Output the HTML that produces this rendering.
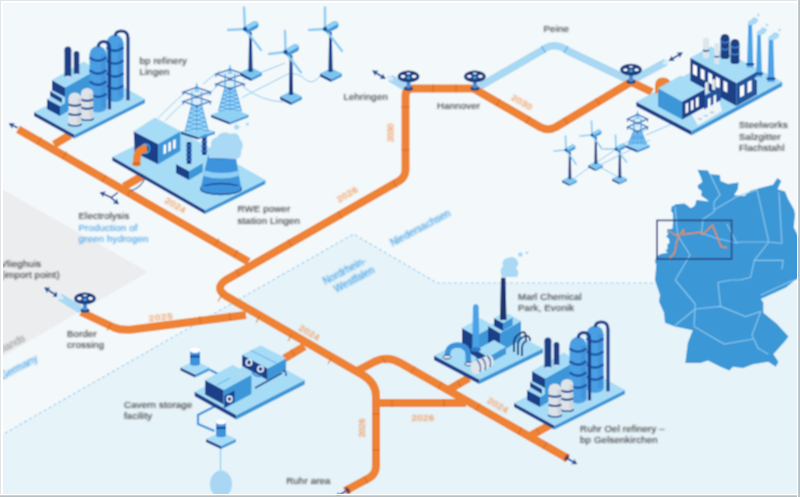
<!DOCTYPE html>
<html><head><meta charset="utf-8"><style>
html,body{margin:0;padding:0;background:#f3f8fa;}
body{width:800px;height:497px;overflow:hidden;position:relative;font-family:"Liberation Sans",sans-serif;}
svg{position:absolute;left:0;top:0;}
</style></head><body>
<svg width="800" height="497" viewBox="0 0 800 497">
<defs><filter id="bl" x="0" y="0" width="800" height="497" filterUnits="userSpaceOnUse"><feConvolveMatrix order="3" kernelMatrix="1 2 1 2 4 2 1 2 1" divisor="16" edgeMode="duplicate"/></filter><filter id="tb" x="-10%" y="-30%" width="120%" height="160%"><feConvolveMatrix order="3" kernelMatrix="1 2 1 2 4 2 1 2 1" divisor="16" edgeMode="none"/></filter></defs>
<g filter="url(#bl)">
<rect x="0" y="0" width="800" height="497" fill="#f3f8fa"/>
<polygon points="0,436 353.5,234 437,283 800,283 800,497 0,497" fill="#e6f3f9"/>
<polygon points="0,188 148,272 0,358" fill="#ebedef"/>
<polyline points="0,436 353.5,234 437,283 660,283" fill="none" stroke="#9ed2f0" stroke-width="1.2" stroke-dasharray="3,2.6"/>
<polygon points="697.6,169.8 707.8,170.5 710.0,174.2 719.8,175.0 720.5,181.0 728.0,184.0 738.5,182.5 737.8,189.2 734.0,195.2 744.5,196.0 750.5,190.8 761.0,187.8 773.0,184.8 777.5,178.0 781.2,181.0 777.5,189.2 785.0,191.5 788.0,199.0 794.0,209.5 795.0,214.5 793.7,227.6 797.6,235.0 800.0,240.0 800.0,278.0 795.0,280.0 786.0,287.5 760.8,298.9 763.3,302.6 763.3,312.7 777.0,324.0 788.4,336.6 784.7,341.6 773.3,354.2 778.4,361.8 775.8,366.8 768.3,361.8 753.0,364.3 743.0,368.0 733.0,366.8 729.3,370.6 720.5,366.8 708.0,360.5 700.4,363.0 685.3,363.0 687.8,342.9 692.8,330.3 675.0,326.5 665.0,322.8 664.0,312.7 659.0,301.4 660.0,295.0 655.0,280.0 656.3,265.0 654.9,261.2 656.3,257.0 660.5,254.0 667.5,252.7 665.4,250.0 667.5,249.2 667.5,244.3 669.6,242.9 669.0,238.7 666.0,236.5 668.0,234.4 666.8,229.5 672.5,228.8 673.0,221.8 672.9,213.3 671.0,210.9 671.6,206.7 675.9,204.3 684.3,203.6 686.7,204.9 690.4,207.9 692.8,207.3 695.2,204.9 696.4,200.0 709.0,201.5 706.0,199.0 701.2,195.8 701.8,191.0 698.2,188.6 697.6,185.5 702.4,181.9 701.2,178.3" fill="#3b97d6"/>
<polyline points="710.0,174.0 720.0,195.0 714.0,202.0 714.0,212.0 702.9,219.0 701.6,233.0" fill="none" stroke="#8fcaf0" stroke-width="1.2" opacity="0.9"/>
<polyline points="714.0,210.0 736.0,197.0" fill="none" stroke="#8fcaf0" stroke-width="1.2" opacity="0.9"/>
<polyline points="736.0,197.0 757.0,189.6" fill="none" stroke="#8fcaf0" stroke-width="1.2" opacity="0.9"/>
<polyline points="757.0,189.6 768.8,242.0 781.9,243.3 779.0,192.0" fill="none" stroke="#8fcaf0" stroke-width="1.2" opacity="0.9"/>
<polyline points="768.8,242.0 754.4,260.3 783.2,260.3 781.9,269.5" fill="none" stroke="#8fcaf0" stroke-width="1.2" opacity="0.9"/>
<polyline points="754.4,260.3 750.5,277.3 740.0,280.0 730.6,280.0" fill="none" stroke="#8fcaf0" stroke-width="1.2" opacity="0.9"/>
<polyline points="675.0,206.5 677.7,235.5" fill="none" stroke="#8fcaf0" stroke-width="1.2" opacity="0.9"/>
<polyline points="701.6,233.0 715.5,238.0 736.9,243.0 740.0,242.0 768.8,242.0" fill="none" stroke="#8fcaf0" stroke-width="1.2" opacity="0.9"/>
<polyline points="726.8,224.0 736.9,243.0" fill="none" stroke="#8fcaf0" stroke-width="1.2" opacity="0.9"/>
<polyline points="675.2,280.0 695.3,304.0 694.0,326.5" fill="none" stroke="#8fcaf0" stroke-width="1.2" opacity="0.9"/>
<polyline points="695.3,309.0 720.5,306.4 745.7,316.5 760.8,311.4" fill="none" stroke="#8fcaf0" stroke-width="1.2" opacity="0.9"/>
<polyline points="720.5,306.4 718.0,282.5 730.6,280.0" fill="none" stroke="#8fcaf0" stroke-width="1.2" opacity="0.9"/>
<polyline points="695.3,309.0 675.2,325.3" fill="none" stroke="#8fcaf0" stroke-width="1.2" opacity="0.9"/>
<polyline points="694.0,326.5 724.3,344.0 753.2,339.0" fill="none" stroke="#8fcaf0" stroke-width="1.2" opacity="0.9"/>
<polyline points="760.8,311.4 752.0,335.3 758.0,348.0 768.3,354.2" fill="none" stroke="#8fcaf0" stroke-width="1.2" opacity="0.9"/>
<polyline points="677.7,235.5 690.0,255.0 675.2,280.0" fill="none" stroke="#8fcaf0" stroke-width="1.2" opacity="0.9"/>
<polyline points="760.8,295.0 793.5,280.0" fill="none" stroke="#8fcaf0" stroke-width="1.2" opacity="0.9"/>
<rect x="657" y="220.4" width="74.6" height="38.6" fill="none" stroke="#2d3f78" stroke-width="1.5"/>
<polyline points="668.2,231 678.8,236.5 683.7,229.5 683,234.4 700,232.3 702.7,234.4 712.6,225.3 721,246.4 726.7,247.8" fill="none" stroke="#e88a45" stroke-width="1.4"/>
<polyline points="678.8,236.5 676.7,241.5 674.6,252.7 669.6,258.4" fill="none" stroke="#e88a45" stroke-width="1.4"/>
<path d="M 390,78 L 405,87" fill="none" stroke="#a8d8f3" stroke-width="7.5" stroke-linejoin="round" stroke-linecap="butt"/>
<path d="M 477,88 L 541,51 Q 554.5,40.5 568,51 L 631,81 L 666,62" fill="none" stroke="#a8d8f3" stroke-width="7.5" stroke-linejoin="round" stroke-linecap="butt"/>
<path d="M 0,-4 L 0,4" stroke="#5aaee8" stroke-width="1.2" transform="translate(543.5,49.5) rotate(-30)"/>
<path d="M 0,-4 L 0,4" stroke="#5aaee8" stroke-width="1.2" transform="translate(566,49.5) rotate(30)"/>
<path d="M 60,297 L 81,310" fill="none" stroke="#a8d8f3" stroke-width="7.5" stroke-linejoin="round" stroke-linecap="butt"/>
<path d="M 18,129.3 L 248.6,261.8" fill="none" stroke="#ee8336" stroke-width="8" stroke-linejoin="round" stroke-linecap="butt"/>
<path d="M 54,144.7 L 70,135" fill="none" stroke="#ee8336" stroke-width="8" stroke-linejoin="round" stroke-linecap="butt"/>
<path d="M 124,186.5 L 146,174" fill="none" stroke="#ee8336" stroke-width="8" stroke-linejoin="round" stroke-linecap="butt"/>
<path d="M 476,88.6 L 413,88.6 Q 405.5,88.6 405.5,96 L 405.5,170 Q 405.5,177 399,181 L 226,280 Q 214,288 226,296 L 362.8,375 Q 376,383 376,396 L 376,466 Q 376,474 369,478 L 345,491" fill="none" stroke="#ee8336" stroke-width="8" stroke-linejoin="round" stroke-linecap="butt"/>
<path d="M 81,312 L 114,327.5 Q 121,330.5 132,329.5 L 246,315" fill="none" stroke="#ee8336" stroke-width="8" stroke-linejoin="round" stroke-linecap="butt"/>
<path d="M 356,371.5 L 375,361.5 Q 388,355.5 400.5,363 L 567,458" fill="none" stroke="#ee8336" stroke-width="8" stroke-linejoin="round" stroke-linecap="butt"/>
<path d="M 376,403 L 466,403" fill="none" stroke="#ee8336" stroke-width="8" stroke-linejoin="round" stroke-linecap="butt"/>
<path d="M 450,389 L 469,378" fill="none" stroke="#ee8336" stroke-width="8" stroke-linejoin="round" stroke-linecap="butt"/>
<path d="M 530,436 L 550,425" fill="none" stroke="#ee8336" stroke-width="8" stroke-linejoin="round" stroke-linecap="butt"/>
<path d="M 284.3,358.5 L 304.5,346.4" fill="none" stroke="#ee8336" stroke-width="8" stroke-linejoin="round" stroke-linecap="butt"/>
<path d="M 474,88.8 L 540,127 Q 548,131.5 556,127 L 631,82 L 652,92" fill="none" stroke="#ee8336" stroke-width="8" stroke-linejoin="round" stroke-linecap="butt"/>
<path d="M 0,-4 L 0,4" stroke="#d46a22" stroke-width="1.2" transform="translate(39.4,141) rotate(30)" opacity="0.75"/>
<path d="M 0,-4 L 0,4" stroke="#d46a22" stroke-width="1.2" transform="translate(64.7,155) rotate(30)" opacity="0.75"/>
<path d="M 0,-4 L 0,4" stroke="#d46a22" stroke-width="1.2" transform="translate(104,178.4) rotate(30)" opacity="0.75"/>
<path d="M 0,-4 L 0,4" stroke="#d46a22" stroke-width="1.2" transform="translate(129.4,192.5) rotate(30)" opacity="0.75"/>
<path d="M 0,-4 L 0,4" stroke="#d46a22" stroke-width="1.2" transform="translate(217,242) rotate(30)" opacity="0.75"/>
<path d="M 0,-4 L 0,4" stroke="#d46a22" stroke-width="1.2" transform="translate(236,253.5) rotate(30)" opacity="0.75"/>
<path d="M 0,-4 L 0,4" stroke="#d46a22" stroke-width="1.2" transform="translate(405.5,107) rotate(90)" opacity="0.75"/>
<path d="M 0,-4 L 0,4" stroke="#d46a22" stroke-width="1.2" transform="translate(405.5,150) rotate(90)" opacity="0.75"/>
<path d="M 0,-4 L 0,4" stroke="#d46a22" stroke-width="1.2" transform="translate(395,184) rotate(-30)" opacity="0.75"/>
<path d="M 0,-4 L 0,4" stroke="#d46a22" stroke-width="1.2" transform="translate(340,215) rotate(-30)" opacity="0.75"/>
<path d="M 0,-4 L 0,4" stroke="#d46a22" stroke-width="1.2" transform="translate(290,243) rotate(-30)" opacity="0.75"/>
<path d="M 0,-4 L 0,4" stroke="#d46a22" stroke-width="1.2" transform="translate(238,273) rotate(-30)" opacity="0.75"/>
<path d="M 0,-4 L 0,4" stroke="#d46a22" stroke-width="1.2" transform="translate(220,298) rotate(30)" opacity="0.75"/>
<path d="M 0,-4 L 0,4" stroke="#d46a22" stroke-width="1.2" transform="translate(258,319) rotate(30)" opacity="0.75"/>
<path d="M 0,-4 L 0,4" stroke="#d46a22" stroke-width="1.2" transform="translate(290,337.5) rotate(30)" opacity="0.75"/>
<path d="M 0,-4 L 0,4" stroke="#d46a22" stroke-width="1.2" transform="translate(330,360.5) rotate(30)" opacity="0.75"/>
<path d="M 0,-4 L 0,4" stroke="#d46a22" stroke-width="1.2" transform="translate(376,414) rotate(90)" opacity="0.75"/>
<path d="M 0,-4 L 0,4" stroke="#d46a22" stroke-width="1.2" transform="translate(376,450) rotate(90)" opacity="0.75"/>
<path d="M 0,-4 L 0,4" stroke="#d46a22" stroke-width="1.2" transform="translate(366,480) rotate(-35)" opacity="0.75"/>
<path d="M 0,-4 L 0,4" stroke="#d46a22" stroke-width="1.2" transform="translate(384,360) rotate(-30)" opacity="0.75"/>
<path d="M 0,-4 L 0,4" stroke="#d46a22" stroke-width="1.2" transform="translate(413,370) rotate(30)" opacity="0.75"/>
<path d="M 0,-4 L 0,4" stroke="#d46a22" stroke-width="1.2" transform="translate(440,385.5) rotate(30)" opacity="0.75"/>
<path d="M 0,-4 L 0,4" stroke="#d46a22" stroke-width="1.2" transform="translate(478,407) rotate(30)" opacity="0.75"/>
<path d="M 0,-4 L 0,4" stroke="#d46a22" stroke-width="1.2" transform="translate(520,431) rotate(30)" opacity="0.75"/>
<path d="M 0,-4 L 0,4" stroke="#d46a22" stroke-width="1.2" transform="translate(545,445.5) rotate(30)" opacity="0.75"/>
<path d="M 0,-4 L 0,4" stroke="#d46a22" stroke-width="1.2" transform="translate(433,88.6) rotate(0)" opacity="0.75"/>
<path d="M 0,-4 L 0,4" stroke="#d46a22" stroke-width="1.2" transform="translate(456,88.6) rotate(0)" opacity="0.75"/>
<path d="M 0,-4 L 0,4" stroke="#d46a22" stroke-width="1.2" transform="translate(498,102.5) rotate(30)" opacity="0.75"/>
<path d="M 0,-4 L 0,4" stroke="#d46a22" stroke-width="1.2" transform="translate(528,120) rotate(30)" opacity="0.75"/>
<path d="M 0,-4 L 0,4" stroke="#d46a22" stroke-width="1.2" transform="translate(566,121) rotate(-30)" opacity="0.75"/>
<path d="M 0,-4 L 0,4" stroke="#d46a22" stroke-width="1.2" transform="translate(598,101.8) rotate(-30)" opacity="0.75"/>
<path d="M 0,-4 L 0,4" stroke="#d46a22" stroke-width="1.2" transform="translate(109,327) rotate(30)" opacity="0.75"/>
<path d="M 0,-4 L 0,4" stroke="#d46a22" stroke-width="1.2" transform="translate(200,320) rotate(-7)" opacity="0.75"/>
<path d="M 0,-4 L 0,4" stroke="#d46a22" stroke-width="1.2" transform="translate(230,316.5) rotate(-7)" opacity="0.75"/>
<path d="M 0,-4 L 0,4" stroke="#d46a22" stroke-width="1.2" transform="translate(392,403) rotate(0)" opacity="0.75"/>
<path d="M 0,-4 L 0,4" stroke="#d46a22" stroke-width="1.2" transform="translate(444,403) rotate(0)" opacity="0.75"/>
<path d="M 0,-4 L 0,4" stroke="#d46a22" stroke-width="1.2" transform="translate(459,383.5) rotate(-30)" opacity="0.75"/>
<path d="M 0,-4 L 0,4" stroke="#d46a22" stroke-width="1.2" transform="translate(538,431.5) rotate(-30)" opacity="0.75"/>
<path d="M 0,-4 L 0,4" stroke="#d46a22" stroke-width="1.2" transform="translate(293,353) rotate(-30)" opacity="0.75"/>
<g transform="translate(566.5,457.7) rotate(30)"><ellipse cx="0" cy="0" rx="2.2" ry="4.3" fill="#c95f1c"/><ellipse cx="0.3" cy="0" rx="1.3" ry="2.6" fill="#1d3f85"/></g>
<g transform="translate(347.5,490.3) rotate(-33)"><ellipse cx="0" cy="0" rx="2.2" ry="4.3" fill="#c95f1c"/><ellipse cx="0.3" cy="0" rx="1.3" ry="2.6" fill="#1d3f85"/></g>
<g transform="translate(0,0)">
<polygon points="34.0,112.0 74.5,134.5 74.5,138.5 34.0,116.0" fill="#1c4088" />
<polygon points="74.5,134.5 145.0,99.0 145.0,103.0 74.5,138.5" fill="#3d96d8" />
<polygon points="104.5,76.5 145.0,99.0 74.5,134.5 34.0,112.0" fill="#a6dcf6" />
<ellipse cx="98" cy="108" rx="10" ry="4.5" fill="#a5d6f5"/>
<ellipse cx="115" cy="97.5" rx="10" ry="4.5" fill="#a5d6f5"/>
<polygon points="47.0,99.0 60.0,106.0 60.0,116.0 47.0,109.0" fill="#1c4088" />
<polygon points="60.0,106.0 70.0,100.0 70.0,110.0 60.0,116.0" fill="#3d96d8" />
<polygon points="47.0,99.0 57.0,93.0 70.0,100.0 60.0,106.0" fill="#a6dcf6" />
<polygon points="50.0,91.0 62.0,98.0 62.0,103.0 50.0,96.0" fill="#1c4088" />
<polygon points="50.0,91.0 60.0,85.0 72.0,92.0 62.0,98.0" fill="#a6dcf6" />
<polygon points="52.0,80.0 65.0,87.5 65.0,97.0 52.0,90.0" fill="#1c4088" />
<polygon points="65.0,87.5 96.0,70.0 96.0,92.0 65.0,110.0" fill="#3d96d8" />
<polygon points="52.0,80.0 84.0,61.5 96.0,70.0 65.0,87.5" fill="#a6dcf6" />
<rect x="64.5" y="49.9" width="6.8" height="27.1" fill="#1c4088"/>
<ellipse cx="67.9" cy="77.0" rx="3.4" ry="2.0" fill="#1c4088"/>
<ellipse cx="67.9" cy="49.9" rx="3.4" ry="3.4" fill="#1c4088"/>
<ellipse cx="68" cy="77.5" rx="4" ry="1.8" fill="#b9d9f2"/>
<rect x="73.8" y="53.8" width="5.5" height="20.8" fill="#1c4088"/>
<ellipse cx="76.5" cy="74.5" rx="2.8" ry="1.6" fill="#1c4088"/>
<ellipse cx="76.5" cy="53.8" rx="2.8" ry="2.8" fill="#1c4088"/>
<ellipse cx="76.5" cy="75" rx="3.5" ry="1.6" fill="#b9d9f2"/>
<rect x="106.5" y="43.2" width="17.0" height="53.8" fill="#4a9fe2"/>
<ellipse cx="115.0" cy="97.0" rx="8.5" ry="5.1" fill="#4a9fe2"/>
<ellipse cx="115.0" cy="43.2" rx="8.5" ry="8.5" fill="#4a9fe2"/>
<rect x="118.1" y="43.2" width="5.4" height="53.8" fill="#3a8ad6" opacity="0.5"/>
<path d="M 106.5,47.6 Q 115.0,54.2 123.5,47.6" fill="none" stroke="#1f58a8" stroke-width="2.5"/>
<path d="M 106.5,60.5 Q 115.0,67.1 123.5,60.5" fill="none" stroke="#1f58a8" stroke-width="2.5"/>
<path d="M 106.5,73.3 Q 115.0,79.9 123.5,73.3" fill="none" stroke="#1f58a8" stroke-width="2.5"/>
<path d="M 106.5,85.4 Q 115.0,92.0 123.5,85.4" fill="none" stroke="#1f58a8" stroke-width="2.5"/>
<path d="M 115,36 Q 116,31 121,31 Q 128,31 128,38 L 128,101" fill="none" stroke="#1c4088" stroke-width="3.2"/>
<rect x="89.5" y="54.5" width="17.0" height="53.0" fill="#4a9fe2"/>
<ellipse cx="98.0" cy="107.5" rx="8.5" ry="5.1" fill="#4a9fe2"/>
<ellipse cx="98.0" cy="54.5" rx="8.5" ry="8.5" fill="#4a9fe2"/>
<rect x="101.1" y="54.5" width="5.4" height="53.0" fill="#3a8ad6" opacity="0.5"/>
<path d="M 89.5,57.4 Q 98.0,64.0 106.5,57.4" fill="none" stroke="#1f58a8" stroke-width="2.5"/>
<path d="M 89.5,70.3 Q 98.0,76.9 106.5,70.3" fill="none" stroke="#1f58a8" stroke-width="2.5"/>
<path d="M 89.5,81.6 Q 98.0,88.2 106.5,81.6" fill="none" stroke="#1f58a8" stroke-width="2.5"/>
<path d="M 89.5,93.7 Q 98.0,100.3 106.5,93.7" fill="none" stroke="#1f58a8" stroke-width="2.5"/>
<path d="M 98,47 Q 99,41.5 104,41.5 Q 109.5,42 109.5,48 L 109.5,110" fill="none" stroke="#1c4088" stroke-width="3.2"/>
<ellipse cx="109.5" cy="110.5" rx="2.5" ry="1.2" fill="#b9d9f2"/>
<ellipse cx="128" cy="101.5" rx="2.5" ry="1.2" fill="#b9d9f2"/>
<ellipse cx="87.1" cy="118.7" rx="6.9" ry="2.4" fill="#2a4f95"/>
<rect x="81.0" y="93.5" width="12.2" height="24.2" fill="#dde3e8"/>
<ellipse cx="87.1" cy="93.5" rx="6.1" ry="5.5" fill="#dde3e8"/>
<ellipse cx="87.1" cy="117.5" rx="6.1" ry="2" fill="#dde3e8"/>
<rect x="89.5" y="93.5" width="3.4" height="24.2" fill="#c3ccd3" opacity="0.6"/>
<path d="M 81.0,99.6 Q 87.1,102.2 93.2,99.6" fill="none" stroke="#2a4f95" stroke-width="2.2"/>
<path d="M 81.0,107.6 Q 87.1,110.2 93.2,107.6" fill="none" stroke="#2a4f95" stroke-width="2.2"/>
<ellipse cx="74.9" cy="124.2" rx="7.2" ry="2.4" fill="#2a4f95"/>
<rect x="68.5" y="98.4" width="12.8" height="24.8" fill="#dde3e8"/>
<ellipse cx="74.9" cy="98.4" rx="6.4" ry="5.8" fill="#dde3e8"/>
<ellipse cx="74.9" cy="123.0" rx="6.4" ry="2" fill="#dde3e8"/>
<rect x="77.5" y="98.4" width="3.6" height="24.8" fill="#c3ccd3" opacity="0.6"/>
<path d="M 68.5,104.6 Q 74.9,107.2 81.3,104.6" fill="none" stroke="#2a4f95" stroke-width="2.2"/>
<path d="M 68.5,113.7 Q 74.9,116.3 81.3,113.7" fill="none" stroke="#2a4f95" stroke-width="2.2"/>
</g>
<g transform="translate(480,291)">
<polygon points="34.0,112.0 74.5,134.5 74.5,138.5 34.0,116.0" fill="#1c4088" />
<polygon points="74.5,134.5 145.0,99.0 145.0,103.0 74.5,138.5" fill="#3d96d8" />
<polygon points="104.5,76.5 145.0,99.0 74.5,134.5 34.0,112.0" fill="#a6dcf6" />
<ellipse cx="98" cy="108" rx="10" ry="4.5" fill="#a5d6f5"/>
<ellipse cx="115" cy="97.5" rx="10" ry="4.5" fill="#a5d6f5"/>
<polygon points="47.0,99.0 60.0,106.0 60.0,116.0 47.0,109.0" fill="#1c4088" />
<polygon points="60.0,106.0 70.0,100.0 70.0,110.0 60.0,116.0" fill="#3d96d8" />
<polygon points="47.0,99.0 57.0,93.0 70.0,100.0 60.0,106.0" fill="#a6dcf6" />
<polygon points="50.0,91.0 62.0,98.0 62.0,103.0 50.0,96.0" fill="#1c4088" />
<polygon points="50.0,91.0 60.0,85.0 72.0,92.0 62.0,98.0" fill="#a6dcf6" />
<polygon points="52.0,80.0 65.0,87.5 65.0,97.0 52.0,90.0" fill="#1c4088" />
<polygon points="65.0,87.5 96.0,70.0 96.0,92.0 65.0,110.0" fill="#3d96d8" />
<polygon points="52.0,80.0 84.0,61.5 96.0,70.0 65.0,87.5" fill="#a6dcf6" />
<rect x="64.5" y="49.9" width="6.8" height="27.1" fill="#1c4088"/>
<ellipse cx="67.9" cy="77.0" rx="3.4" ry="2.0" fill="#1c4088"/>
<ellipse cx="67.9" cy="49.9" rx="3.4" ry="3.4" fill="#1c4088"/>
<ellipse cx="68" cy="77.5" rx="4" ry="1.8" fill="#b9d9f2"/>
<rect x="73.8" y="53.8" width="5.5" height="20.8" fill="#1c4088"/>
<ellipse cx="76.5" cy="74.5" rx="2.8" ry="1.6" fill="#1c4088"/>
<ellipse cx="76.5" cy="53.8" rx="2.8" ry="2.8" fill="#1c4088"/>
<ellipse cx="76.5" cy="75" rx="3.5" ry="1.6" fill="#b9d9f2"/>
<rect x="106.5" y="43.2" width="17.0" height="53.8" fill="#4a9fe2"/>
<ellipse cx="115.0" cy="97.0" rx="8.5" ry="5.1" fill="#4a9fe2"/>
<ellipse cx="115.0" cy="43.2" rx="8.5" ry="8.5" fill="#4a9fe2"/>
<rect x="118.1" y="43.2" width="5.4" height="53.8" fill="#3a8ad6" opacity="0.5"/>
<path d="M 106.5,47.6 Q 115.0,54.2 123.5,47.6" fill="none" stroke="#1f58a8" stroke-width="2.5"/>
<path d="M 106.5,60.5 Q 115.0,67.1 123.5,60.5" fill="none" stroke="#1f58a8" stroke-width="2.5"/>
<path d="M 106.5,73.3 Q 115.0,79.9 123.5,73.3" fill="none" stroke="#1f58a8" stroke-width="2.5"/>
<path d="M 106.5,85.4 Q 115.0,92.0 123.5,85.4" fill="none" stroke="#1f58a8" stroke-width="2.5"/>
<path d="M 115,36 Q 116,31 121,31 Q 128,31 128,38 L 128,101" fill="none" stroke="#1c4088" stroke-width="3.2"/>
<rect x="89.5" y="54.5" width="17.0" height="53.0" fill="#4a9fe2"/>
<ellipse cx="98.0" cy="107.5" rx="8.5" ry="5.1" fill="#4a9fe2"/>
<ellipse cx="98.0" cy="54.5" rx="8.5" ry="8.5" fill="#4a9fe2"/>
<rect x="101.1" y="54.5" width="5.4" height="53.0" fill="#3a8ad6" opacity="0.5"/>
<path d="M 89.5,57.4 Q 98.0,64.0 106.5,57.4" fill="none" stroke="#1f58a8" stroke-width="2.5"/>
<path d="M 89.5,70.3 Q 98.0,76.9 106.5,70.3" fill="none" stroke="#1f58a8" stroke-width="2.5"/>
<path d="M 89.5,81.6 Q 98.0,88.2 106.5,81.6" fill="none" stroke="#1f58a8" stroke-width="2.5"/>
<path d="M 89.5,93.7 Q 98.0,100.3 106.5,93.7" fill="none" stroke="#1f58a8" stroke-width="2.5"/>
<path d="M 98,47 Q 99,41.5 104,41.5 Q 109.5,42 109.5,48 L 109.5,110" fill="none" stroke="#1c4088" stroke-width="3.2"/>
<ellipse cx="109.5" cy="110.5" rx="2.5" ry="1.2" fill="#b9d9f2"/>
<ellipse cx="128" cy="101.5" rx="2.5" ry="1.2" fill="#b9d9f2"/>
<ellipse cx="87.1" cy="118.7" rx="6.9" ry="2.4" fill="#2a4f95"/>
<rect x="81.0" y="93.5" width="12.2" height="24.2" fill="#dde3e8"/>
<ellipse cx="87.1" cy="93.5" rx="6.1" ry="5.5" fill="#dde3e8"/>
<ellipse cx="87.1" cy="117.5" rx="6.1" ry="2" fill="#dde3e8"/>
<rect x="89.5" y="93.5" width="3.4" height="24.2" fill="#c3ccd3" opacity="0.6"/>
<path d="M 81.0,99.6 Q 87.1,102.2 93.2,99.6" fill="none" stroke="#2a4f95" stroke-width="2.2"/>
<path d="M 81.0,107.6 Q 87.1,110.2 93.2,107.6" fill="none" stroke="#2a4f95" stroke-width="2.2"/>
<ellipse cx="74.9" cy="124.2" rx="7.2" ry="2.4" fill="#2a4f95"/>
<rect x="68.5" y="98.4" width="12.8" height="24.8" fill="#dde3e8"/>
<ellipse cx="74.9" cy="98.4" rx="6.4" ry="5.8" fill="#dde3e8"/>
<ellipse cx="74.9" cy="123.0" rx="6.4" ry="2" fill="#dde3e8"/>
<rect x="77.5" y="98.4" width="3.6" height="24.8" fill="#c3ccd3" opacity="0.6"/>
<path d="M 68.5,104.6 Q 74.9,107.2 81.3,104.6" fill="none" stroke="#2a4f95" stroke-width="2.2"/>
<path d="M 68.5,113.7 Q 74.9,116.3 81.3,113.7" fill="none" stroke="#2a4f95" stroke-width="2.2"/>
</g>
<path d="M 185,92.5 Q 172,104 158,118" stroke="#8ccdf2" stroke-width="1" fill="none"/>
<path d="M 184,102.5 Q 173,112 165,121" stroke="#8ccdf2" stroke-width="1" fill="none"/>
<path d="M 203,84 Q 212,76 220,71" stroke="#8ccdf2" stroke-width="1" fill="none"/>
<path d="M 207,96 Q 214,90 222,80" stroke="#8ccdf2" stroke-width="1" fill="none"/>
<path d="M 244,87.5 Q 262,101 283,102" stroke="#8ccdf2" stroke-width="1" fill="none"/>
<path d="M 242,97.5 L 288,74 Q 298,72 306,80 Q 314,86 322,73" stroke="#8ccdf2" stroke-width="1" fill="none"/>
<path d="M 243,80 Q 262,72 285,63" stroke="#8ccdf2" stroke-width="1" fill="none"/>
<path d="M 648,128 Q 630,140 600,160 Q 585,170 572,180" stroke="#8ccdf2" stroke-width="1" fill="none"/>
<path d="M 646,135 L 700,112" stroke="#8ccdf2" stroke-width="1" fill="none"/>
<path d="M 598,166 L 620,178" stroke="#8ccdf2" stroke-width="1" fill="none"/>
<path d="M 598,166 L 650,140" stroke="#8ccdf2" stroke-width="1" fill="none"/>
<polygon points="636.3,101.8 691.6,130.7 691.6,135.2 636.3,106.3" fill="#1c4088" />
<polygon points="691.6,130.7 782.2,81.7 782.2,86.2 691.6,135.2" fill="#3d96d8" />
<polygon points="726.9,52.8 782.2,81.7 691.6,130.7 636.3,101.8" fill="#a6dcf6" />
<path d="M 655,94 L 655,86 Q 655,77.5 663,77.5 Q 670,77.5 671,84 L 671,88 Z" fill="#ee8336"/>
<polygon points="690.4,57.8 736.5,83.0 736.5,106.0 690.4,81.0" fill="#1c4088" />
<polygon points="736.5,83.0 757.0,71.5 757.0,94.5 736.5,106.0" fill="#24559c" />
<polygon points="690.4,57.8 710.9,46.3 757.0,71.5 736.5,83.0" fill="#a6dcf6" />
<polygon points="693.0,64.0 697.0,66.2 697.0,76.2 693.0,74.0" fill="#ffffff" />
<polygon points="700.6,68.2 704.6,70.4 704.6,80.4 700.6,78.2" fill="#ffffff" />
<polygon points="708.2,72.3 712.2,74.5 712.2,84.5 708.2,82.3" fill="#ffffff" />
<polygon points="715.8,76.5 719.8,78.7 719.8,88.7 715.8,86.5" fill="#ffffff" />
<polygon points="723.4,80.6 727.4,82.8 727.4,92.8 723.4,90.6" fill="#ffffff" />
<polygon points="740.0,86.5 744.2,84.2 744.2,95.2 740.0,97.5" fill="#ffffff" />
<polygon points="747.5,82.3 751.7,80.0 751.7,91.0 747.5,93.3" fill="#ffffff" />
<rect x="720.6" y="38.3" width="8.8" height="18.2" fill="#1d3f80"/>
<ellipse cx="725.0" cy="56.5" rx="4.4" ry="2.6" fill="#1d3f80"/>
<ellipse cx="725.0" cy="38.3" rx="4.4" ry="4.4" fill="#1d3f80"/>
<path d="M 720.6,41.0 Q 725.0,44.4 729.4,41.0" fill="none" stroke="#3a7fd0" stroke-width="1.6"/>
<path d="M 720.6,48.0 Q 725.0,51.4 729.4,48.0" fill="none" stroke="#3a7fd0" stroke-width="1.6"/>
<rect x="730.6" y="43.3" width="8.8" height="18.2" fill="#1d3f80"/>
<ellipse cx="735.0" cy="61.5" rx="4.4" ry="2.6" fill="#1d3f80"/>
<ellipse cx="735.0" cy="43.3" rx="4.4" ry="4.4" fill="#1d3f80"/>
<path d="M 730.6,46.0 Q 735.0,49.4 739.4,46.0" fill="none" stroke="#3a7fd0" stroke-width="1.6"/>
<path d="M 730.6,53.0 Q 735.0,56.4 739.4,53.0" fill="none" stroke="#3a7fd0" stroke-width="1.6"/>
<rect x="703.0" y="40.6" width="6.0" height="15.9" fill="#dfe6ea"/>
<ellipse cx="706.0" cy="56.5" rx="3.0" ry="1.8" fill="#dfe6ea"/>
<ellipse cx="706.0" cy="40.6" rx="3.0" ry="3.0" fill="#dfe6ea"/>
<path d="M 703.0,50.0 Q 706.0,52.3 709.0,50.0" fill="none" stroke="#2a5fa8" stroke-width="1.6"/>
<rect x="714.3" y="45.2" width="5.0" height="17.6" fill="#dfe6ea"/>
<ellipse cx="716.8" cy="62.8" rx="2.5" ry="1.5" fill="#dfe6ea"/>
<ellipse cx="716.8" cy="45.2" rx="2.5" ry="2.5" fill="#dfe6ea"/>
<path d="M 714.3,56.0 Q 716.8,58.0 719.3,56.0" fill="none" stroke="#2a5fa8" stroke-width="1.6"/>
<path d="M 748.3,24 L 752.0,24 L 753.3,69 L 747,69 Z" fill="#4aa3e6"/>
<rect x="746.2" y="63" width="7.899999999999954" height="2.4" fill="#1d4b92"/>
<ellipse cx="750.15" cy="69" rx="4.649999999999977" ry="1.8" fill="#a9d9f5"/>
<path d="M 748,25 Q 747,21 751,20 Q 753,16 756.3,18 Q 759.3,19 757.3,22 Q 755.3,25 752.3,25 Z" fill="#a9d9f5"/>
<circle cx="758.3" cy="15" r="1.3" fill="#a9d9f5"/>
<path d="M 757.3,34 L 760.7,34 L 762,78.5 L 756,78.5 Z" fill="#4aa3e6"/>
<rect x="755.2" y="72.5" width="7.6" height="2.4" fill="#1d4b92"/>
<ellipse cx="759.0" cy="78.5" rx="4.5" ry="1.8" fill="#a9d9f5"/>
<path d="M 757,35 Q 756,31 760,30 Q 762,26 765,28 Q 768,29 766,32 Q 764,35 761,35 Z" fill="#a9d9f5"/>
<circle cx="767" cy="25" r="1.3" fill="#a9d9f5"/>
<path d="M 768.8,39 L 773.2,39 L 774.5,83.5 L 767.5,83.5 Z" fill="#4aa3e6"/>
<rect x="766.7" y="77.5" width="8.6" height="2.4" fill="#1d4b92"/>
<ellipse cx="771.0" cy="83.5" rx="5.0" ry="1.8" fill="#a9d9f5"/>
<path d="M 768.5,40 Q 767.5,36 771.5,35 Q 773.5,31 777.5,33 Q 780.5,34 778.5,37 Q 776.5,40 773.5,40 Z" fill="#a9d9f5"/>
<circle cx="779.5" cy="30" r="1.3" fill="#a9d9f5"/>
<polygon points="690.0,111.5 718.0,96.0 722.0,111.0 698.0,125.5" fill="#eef6fb" />
<polygon points="704.0,96.0 721.0,86.5 721.0,100.0 704.0,109.5" fill="#24559c" />
<polygon points="708.0,99.0 710.6,97.5 710.6,106.5 708.0,108.0" fill="#ffffff" />
<polygon points="713.5,95.9 716.1,94.4 716.1,103.4 713.5,104.9" fill="#ffffff" />
<rect x="705.0" y="83.8" width="3.5" height="8.2" fill="#dfe6ea"/>
<ellipse cx="706.8" cy="92.0" rx="1.8" ry="1.1" fill="#dfe6ea"/>
<ellipse cx="706.8" cy="83.8" rx="1.8" ry="1.8" fill="#dfe6ea"/>
<rect x="712.0" y="80.8" width="3.5" height="8.2" fill="#dfe6ea"/>
<ellipse cx="713.8" cy="89.0" rx="1.8" ry="1.1" fill="#dfe6ea"/>
<ellipse cx="713.8" cy="80.8" rx="1.8" ry="1.8" fill="#dfe6ea"/>
<ellipse cx="700" cy="119.0" rx="2.4" ry="1.3" fill="#c8d6e0"/>
<ellipse cx="706" cy="115.7" rx="2.4" ry="1.3" fill="#c8d6e0"/>
<ellipse cx="712" cy="112.4" rx="2.4" ry="1.3" fill="#c8d6e0"/>
<polygon points="658.0,88.3 682.2,101.4 682.2,119.5 658.0,106.5" fill="#3d96d8" />
<polygon points="682.2,101.4 705.0,89.0 705.0,107.0 682.2,119.5" fill="#1c4088" />
<polygon points="658.0,88.3 680.5,75.5 705.0,89.0 682.2,101.4" fill="#a6dcf6" />
<polygon points="685.5,104.0 688.3,102.5 688.3,112.0 685.5,113.5" fill="#ffffff" />
<polygon points="690.7,101.2 693.5,99.7 693.5,109.2 690.7,110.7" fill="#ffffff" />
<polygon points="695.9,98.3 698.7,96.8 698.7,106.3 695.9,107.8" fill="#ffffff" />
<polygon points="434.0,355.4 479.3,379.6 479.3,384.1 434.0,359.9" fill="#1c4088" />
<polygon points="479.3,379.6 542.8,348.4 542.8,352.9 479.3,384.1" fill="#3d96d8" />
<polygon points="497.5,324.2 542.8,348.4 479.3,379.6 434.0,355.4" fill="#a6dcf6" />
<path d="M 502,277 Q 499,270 503,266 Q 501,259 508,258 Q 514,255 517,260 Q 520,264 516,268 Q 520,273 517,277 Z" fill="#a9d9f5"/>
<circle cx="520.4" cy="254.5" r="2.3" fill="#a9d9f5"/>
<circle cx="527" cy="252.8" r="1.4" fill="#a9d9f5"/>
<polygon points="462.0,328.0 476.0,336.0 476.0,357.0 462.0,349.0" fill="#1c4088" />
<polygon points="462.0,328.0 480.0,318.0 494.0,326.0 476.0,336.0" fill="#a6dcf6" />
<polygon points="476.0,336.0 494.0,326.0 494.0,350.0 476.0,360.0" fill="#3d96d8" />
<polygon points="488.0,326.0 500.0,333.0 500.0,352.0 488.0,345.0" fill="#1c4088" />
<polygon points="500.0,333.0 521.0,321.0 521.0,340.0 500.0,352.0" fill="#3d96d8" />
<polygon points="488.0,326.0 509.0,314.0 521.0,321.0 500.0,333.0" fill="#a6dcf6" />
<polygon points="494.0,318.0 503.0,323.0 503.0,331.0 494.0,326.0" fill="#1c4088" />
<polygon points="503.0,323.0 512.6,317.5 512.6,325.5 503.0,331.0" fill="#3d96d8" />
<polygon points="494.0,318.0 503.5,312.5 512.6,317.5 503.0,323.0" fill="#a6dcf6" />
<path d="M 501,277.7 L 505.5,277.7 L 506.5,320 L 500,320 Z" fill="#1a3570"/>
<polygon points="476.0,350.0 488.0,357.0 488.0,364.0 476.0,357.0" fill="#1c4088" />
<polygon points="488.0,357.0 506.0,347.0 506.0,354.0 488.0,364.0" fill="#3d96d8" />
<polygon points="476.0,350.0 494.0,340.0 506.0,347.0 488.0,357.0" fill="#a6dcf6" />
<path d="M 473,306 Q 475.8,302 478.6,306 L 479.5,349 L 472.2,349 Z" fill="#4aa3e6"/>
<ellipse cx="475.8" cy="349.5" rx="5" ry="2.2" fill="#2f7cc9"/>
<path d="M 447,356 L 448,351 Q 450,345 458,345 Q 467,345.5 468,353 L 468.5,363" fill="none" stroke="#3d93dc" stroke-width="5.5"/>
<ellipse cx="447" cy="357" rx="4" ry="2" fill="#dfe6ea" stroke="#1d4b92" stroke-width="1"/>
<ellipse cx="468.5" cy="364" rx="3.6" ry="1.8" fill="#dfe6ea" stroke="#1d4b92" stroke-width="1"/>
<path d="M 471,363 L 488,355 Q 495,355 493.5,365 L 478,374 Q 469,375 471,363 Z" fill="#dfe6ea"/>
<path d="M 477,360 Q 482,365 480,372 M 482,358 Q 487,363 485,370 M 487,355.5 Q 492,360 490,367" stroke="#1d4b92" stroke-width="1.2" fill="none"/>
<path d="M 514,352 L 514,343 Q 514,336 521,333 Q 526,330 526,338 L 526,340 M 518,355 L 518,345 Q 518,339 524,336.5 Q 530,334 530,341 M 522,356 L 522,348 Q 522,343 527,340.5" fill="none" stroke="#1a3570" stroke-width="1.8"/>
<path d="M 209.7,369.7 L 218,374" stroke="#3d93dc" stroke-width="2.2" fill="none"/>
<path d="M 229.4,398.7 L 198,415 L 198,424 L 214.4,431" stroke="#3d93dc" stroke-width="2.2" fill="none"/>
<path d="M 220.5,446 L 220.5,472" stroke="#8ccdf2" stroke-width="1.2" fill="none"/>
<ellipse cx="221" cy="484" rx="11" ry="13.5" fill="#a9d6f2"/>
<polygon points="194.7,391.7 236.4,414.9 236.4,419.4 194.7,396.2" fill="#1c4088" />
<polygon points="236.4,414.9 304.7,380.1 304.7,384.6 236.4,419.4" fill="#3d96d8" />
<polygon points="263.0,356.9 304.7,380.1 236.4,414.9 194.7,391.7" fill="#a6dcf6" />
<polygon points="242.1,354.7 267.6,368.6 267.6,380.0 242.1,366.0" fill="#1c4088" />
<polygon points="267.6,368.6 286.1,358.2 286.1,369.5 267.6,380.0" fill="#3d96d8" />
<polygon points="242.1,354.7 260.7,345.4 286.1,358.2 267.6,368.6" fill="#a6dcf6" />
<path d="M 251,350.5 L 277,363.5" stroke="#5fb2ea" stroke-width="1"/>
<ellipse cx="249" cy="362.5" rx="3.4" ry="3.6" fill="#ffffff"/>
<ellipse cx="249" cy="362.5" rx="2" ry="2.2" fill="#1d4b92"/>
<ellipse cx="260.5" cy="369" rx="3.4" ry="3.6" fill="#ffffff"/>
<ellipse cx="260.5" cy="369" rx="2" ry="2.2" fill="#1d4b92"/>
<path d="M 252,372 Q 256,378 262,376" stroke="#3d93dc" stroke-width="1.6" fill="none"/>
<path d="M 283,372 Q 286,368 286,376" stroke="#1d4b92" stroke-width="1.4" fill="none"/>
<path d="M 255,388 L 282,373" stroke="#1d4b92" stroke-width="1.6" fill="none"/>
<polygon points="205.1,380.1 223.6,390.0 223.6,404.5 205.1,394.5" fill="#1c4088" />
<polygon points="223.6,390.0 251.4,374.8 251.4,394.0 223.6,409.0" fill="#3d96d8" />
<polygon points="205.1,380.1 232.5,365.0 251.4,374.8 223.6,390.0" fill="#a6dcf6" />
<path d="M 217,385 L 230,378" stroke="#5fb2ea" stroke-width="1"/>
<polygon points="224.5,396.0 234.5,390.5 234.5,402.0 224.5,407.5" fill="#1c4088" />
<ellipse cx="229.5" cy="399" rx="3.2" ry="3.4" fill="#ffffff"/>
<ellipse cx="229.5" cy="399" rx="1.9" ry="2.1" fill="#1d4b92"/>
<polygon points="180.5,367.5 195.0,374.5 195.0,377.5 180.5,370.5" fill="#1c4088" />
<polygon points="195.0,374.5 209.5,367.5 209.5,370.5 195.0,377.5" fill="#3d96d8" />
<polygon points="195.0,360.5 209.5,367.5 195.0,374.5 180.5,367.5" fill="#a6dcf6" />
<rect x="190" y="350.5" width="10" height="13" fill="#3d93dc"/>
<ellipse cx="195" cy="363.5" rx="5" ry="2.2" fill="#3d93dc"/>
<rect x="190" y="355.5" width="10" height="2" fill="#1d4b92"/>
<ellipse cx="195" cy="350.5" rx="5" ry="2.4" fill="#ffffff"/>
<polygon points="206.0,439.0 221.0,446.0 221.0,449.0 206.0,442.0" fill="#1c4088" />
<polygon points="221.0,446.0 236.0,439.0 236.0,442.0 221.0,449.0" fill="#3d96d8" />
<polygon points="221.0,432.0 236.0,439.0 221.0,446.0 206.0,439.0" fill="#a6dcf6" />
<rect x="216" y="422" width="10" height="13" fill="#3d93dc"/>
<ellipse cx="221" cy="435" rx="5" ry="2.2" fill="#3d93dc"/>
<rect x="216" y="427" width="10" height="2" fill="#1d4b92"/>
<ellipse cx="221" cy="422" rx="5" ry="2.4" fill="#ffffff"/>
<polygon points="112.4,156.7 204.9,209.9 204.9,213.9 112.4,160.7" fill="#1c4088" />
<polygon points="204.9,209.9 265.4,180.1 265.4,184.1 204.9,213.9" fill="#3d96d8" />
<polygon points="172.9,126.9 265.4,180.1 204.9,209.9 112.4,156.7" fill="#a6dcf6" />
<polygon points="133.7,131.2 158.1,144.0 158.1,164.2 134.7,152.5" fill="#1c4088" />
<polygon points="158.1,144.0 180.4,131.2 180.4,151.0 158.1,164.2" fill="#3d96d8" />
<polygon points="133.7,131.2 155.0,117.4 180.4,131.2 158.1,144.0" fill="#a6dcf6" />
<polygon points="163.5,145.5 166.1,144.1 166.1,153.1 163.5,154.5" fill="#ffffff" />
<polygon points="168.3,142.9 170.9,141.5 170.9,150.5 168.3,151.9" fill="#ffffff" />
<polygon points="173.1,140.3 175.7,138.9 175.7,147.9 173.1,149.3" fill="#ffffff" />
<ellipse cx="145.4" cy="148.5" rx="5" ry="5.5" fill="#3b9be0"/>
<ellipse cx="145.6" cy="148.5" rx="3" ry="3.5" fill="#123a7a"/>
<path d="M 147,148.5 Q 138,149 137,157 L 136.5,164" fill="none" stroke="#ee8336" stroke-width="7.5"/>
<ellipse cx="136.5" cy="164" rx="4.2" ry="2.2" fill="#d86f26"/>
<polygon points="176.0,164.0 189.0,171.0 189.0,180.0 176.0,173.0" fill="#1c4088" />
<polygon points="189.0,171.0 202.7,163.0 202.7,172.0 189.0,180.0" fill="#3d96d8" />
<polygon points="176.0,164.0 189.5,156.5 202.7,163.0 189.0,171.0" fill="#a6dcf6" />
<rect x="186.8" y="142" width="4.4" height="22" fill="#1c4088"/>
<rect x="186" y="145.0" width="6" height="1.6" fill="#2f6fbf"/>
<rect x="186" y="149.5" width="6" height="1.6" fill="#2f6fbf"/>
<rect x="186" y="154.0" width="6" height="1.6" fill="#2f6fbf"/>
<rect x="186" y="158.5" width="6" height="1.6" fill="#2f6fbf"/>
<rect x="202.10000000000002" y="133.5" width="4.4" height="21.5" fill="#1c4088"/>
<rect x="201.3" y="136.5" width="6" height="1.6" fill="#2f6fbf"/>
<rect x="201.3" y="141.0" width="6" height="1.6" fill="#2f6fbf"/>
<rect x="201.3" y="145.5" width="6" height="1.6" fill="#2f6fbf"/>
<rect x="201.3" y="150.0" width="6" height="1.6" fill="#2f6fbf"/>
<path d="M 200.5,189 Q 204,172 208,156 L 235.7,156 Q 238,172 241.5,189 Z" fill="#3d93dc"/>
<path d="M 203.4,176 Q 221,181 238.5,176 L 239.4,170.5 Q 221,175.5 204.5,170.5 Z" fill="#8fcff5"/>
<ellipse cx="221" cy="189" rx="20.5" ry="5.5" fill="#3d93dc" stroke="#1d4b92" stroke-width="1.3"/>
<path d="M 200.5,189 L 241.5,189 L 241.5,186 L 200.5,186 Z" fill="#3d93dc"/>
<ellipse cx="222" cy="156" rx="13.8" ry="3.5" fill="#2a6fbf"/>
<path d="M 209,158 Q 207,150 211,146 Q 210,139 217,137 Q 222,130 230,134 Q 238,131 240,139 Q 245,145 241,151 Q 242,158 236,159 Z" fill="#a9d9f5"/>
<circle cx="236.7" cy="127" r="2.6" fill="#a9d9f5"/>
<circle cx="247.4" cy="124" r="1.6" fill="#a9d9f5"/>
<polygon points="181.0,131.5 198.0,137.0 198.0,139.5 181.0,134.0" fill="#1c4088" />
<polygon points="198.0,137.0 215.0,131.5 215.0,134.0 198.0,139.5" fill="#3d96d8" />
<polygon points="198.0,126.0 215.0,131.5 198.0,137.0 181.0,131.5" fill="#8fd0f5" />
<polygon points="191.9,104.5 201.5,104.5 208.2,131 185.2,131" fill="#a9dcf7"/>
<path d="M 191.9,104.5 L 185.2,131 M 201.5,104.5 L 208.2,131 M 196.7,104.5 L 196.7,131 M 191.9,104.5 L 202.6,108.9 M 201.5,104.5 L 190.8,108.9 M 190.8,108.9 L 203.7,113.3 M 202.6,108.9 L 189.7,113.3 M 189.7,113.3 L 204.8,117.8 M 203.7,113.3 L 188.6,117.8 M 188.6,117.8 L 206.0,122.2 M 204.8,117.8 L 187.4,122.2 M 187.4,122.2 L 207.1,126.6 M 206.0,122.2 L 186.3,126.6 M 186.3,126.6 L 208.2,131.0 M 207.1,126.6 L 185.2,131.0 " stroke="#4aa3e6" stroke-width="1" fill="none"/>
<path d="M 196.7,82 L 194.2,92 L 199.2,92 Z" fill="#5fb2ea"/>
<polygon points="183.1,92.0 196.7,87.5 210.3,92.0 196.7,96.5" fill="#bfe4f8" fill-opacity="0.5" stroke="#2f62ad" stroke-width="1.2"/>
<path d="M 183.1,92.0 L 183.1,95.0 M 210.3,92.0 L 210.3,95.0 M 196.7,96.5 L 196.7,99.0" stroke="#2f62ad" stroke-width="1"/>
<polygon points="183.1,101.5 196.7,97.0 210.3,101.5 196.7,106.0" fill="#bfe4f8" fill-opacity="0.5" stroke="#2f62ad" stroke-width="1.2"/>
<path d="M 183.1,101.5 L 183.1,104.5 M 210.3,101.5 L 210.3,104.5 M 196.7,106.0 L 196.7,108.5" stroke="#2f62ad" stroke-width="1"/>
<path d="M 191.9,92.0 L 191.9,104.5 M 201.5,92.0 L 201.5,104.5" stroke="#4aa3e6" stroke-width="1.2"/>
<polygon points="211.0,114.8 229.8,122.0 229.8,124.5 211.0,117.2" fill="#1c4088" />
<polygon points="229.8,122.0 248.5,114.8 248.5,117.2 229.8,124.5" fill="#3d96d8" />
<polygon points="229.8,107.5 248.5,114.8 229.8,122.0 211.0,114.8" fill="#8fd0f5" />
<polygon points="225.1,87.0 234.9,87.0 241.5,111 218.5,111" fill="#a9dcf7"/>
<path d="M 225.1,87.0 L 218.5,111 M 234.9,87.0 L 241.5,111 M 230,87.0 L 230,111 M 225.1,87.0 L 236.0,91.0 M 234.9,87.0 L 224.0,91.0 M 224.0,91.0 L 237.1,95.0 M 236.0,91.0 L 222.9,95.0 M 222.9,95.0 L 238.2,99.0 M 237.1,95.0 L 221.8,99.0 M 221.8,99.0 L 239.3,103.0 M 238.2,99.0 L 220.7,103.0 M 220.7,103.0 L 240.4,107.0 M 239.3,103.0 L 219.6,107.0 M 219.6,107.0 L 241.5,111.0 M 240.4,107.0 L 218.5,111.0 " stroke="#4aa3e6" stroke-width="1" fill="none"/>
<path d="M 230,64 L 227.5,74 L 232.5,74 Z" fill="#5fb2ea"/>
<polygon points="216.0,74.0 230.0,69.5 244.0,74.0 230.0,78.5" fill="#bfe4f8" fill-opacity="0.5" stroke="#2f62ad" stroke-width="1.2"/>
<path d="M 216.0,74.0 L 216.0,77.0 M 244.0,74.0 L 244.0,77.0 M 230,78.5 L 230,81.0" stroke="#2f62ad" stroke-width="1"/>
<polygon points="216.0,84.0 230.0,79.5 244.0,84.0 230.0,88.5" fill="#bfe4f8" fill-opacity="0.5" stroke="#2f62ad" stroke-width="1.2"/>
<path d="M 216.0,84.0 L 216.0,87.0 M 244.0,84.0 L 244.0,87.0 M 230,88.5 L 230,91.0" stroke="#2f62ad" stroke-width="1"/>
<path d="M 225.1,74.0 L 225.1,87.0 M 234.9,74.0 L 234.9,87.0" stroke="#4aa3e6" stroke-width="1.2"/>
<polygon points="240.0,72.5 251.0,78.0 251.0,81.0 240.0,75.5" fill="#1c4088" />
<polygon points="251.0,78.0 262.0,72.5 262.0,75.5 251.0,81.0" fill="#3d96d8" />
<polygon points="251.0,67.0 262.0,72.5 251.0,78.0 240.0,72.5" fill="#7cc4ef" />
<path d="M 249.2,32.0 L 251.8,32.0 L 252.6,72 L 248.4,72 Z" fill="#1a3f85"/>
<path d="M 245,29 L 244,7.5" stroke="#8ccdf2" stroke-width="2.4" stroke-linecap="round"/>
<path d="M 245,29 L 228,30" stroke="#8ccdf2" stroke-width="2.4" stroke-linecap="round"/>
<path d="M 245,29 L 261,50" stroke="#8ccdf2" stroke-width="2.4" stroke-linecap="round"/>
<path d="M 244.0,27.0 L 254.0,21.0 Q 259.0,21.0 258.5,26.0 L 257.5,28.0 L 248.0,33.0 Q 243.0,32.0 244.0,27.0 Z" fill="#3d96d8"/>
<path d="M 244.0,27.0 L 254.0,21.0 Q 258.0,21.0 258.0,24.0 L 248.0,29.5 Z" fill="#8fd0f5"/>
<circle cx="245" cy="29" r="2.2" fill="#1f4f99"/>
<polygon points="280.0,96.5 291.0,102.0 291.0,105.0 280.0,99.5" fill="#1c4088" />
<polygon points="291.0,102.0 302.0,96.5 302.0,99.5 291.0,105.0" fill="#3d96d8" />
<polygon points="291.0,91.0 302.0,96.5 291.0,102.0 280.0,96.5" fill="#7cc4ef" />
<path d="M 289.7,55.0 L 292.3,55.0 L 293.1,95 L 288.9,95 Z" fill="#1a3f85"/>
<path d="M 285.5,52 L 285,31" stroke="#8ccdf2" stroke-width="2.4" stroke-linecap="round"/>
<path d="M 285.5,52 L 269,54" stroke="#8ccdf2" stroke-width="2.4" stroke-linecap="round"/>
<path d="M 285.5,52 L 301,72.5" stroke="#8ccdf2" stroke-width="2.4" stroke-linecap="round"/>
<path d="M 284.5,50.0 L 294.5,44.0 Q 299.5,44.0 299.0,49.0 L 298.0,51.0 L 288.5,56.0 Q 283.5,55.0 284.5,50.0 Z" fill="#3d96d8"/>
<path d="M 284.5,50.0 L 294.5,44.0 Q 298.5,44.0 298.5,47.0 L 288.5,52.5 Z" fill="#8fd0f5"/>
<circle cx="285.5" cy="52" r="2.2" fill="#1f4f99"/>
<polygon points="320.0,73.5 331.0,79.0 331.0,82.0 320.0,76.5" fill="#1c4088" />
<polygon points="331.0,79.0 342.0,73.5 342.0,76.5 331.0,82.0" fill="#3d96d8" />
<polygon points="331.0,68.0 342.0,73.5 331.0,79.0 320.0,73.5" fill="#7cc4ef" />
<path d="M 329.2,32.0 L 331.8,32.0 L 332.6,72 L 328.4,72 Z" fill="#1a3f85"/>
<path d="M 325,29 L 325,7.5" stroke="#8ccdf2" stroke-width="2.4" stroke-linecap="round"/>
<path d="M 325,29 L 309,30" stroke="#8ccdf2" stroke-width="2.4" stroke-linecap="round"/>
<path d="M 325,29 L 342,51" stroke="#8ccdf2" stroke-width="2.4" stroke-linecap="round"/>
<path d="M 324.0,27.0 L 334.0,21.0 Q 339.0,21.0 338.5,26.0 L 337.5,28.0 L 328.0,33.0 Q 323.0,32.0 324.0,27.0 Z" fill="#3d96d8"/>
<path d="M 324.0,27.0 L 334.0,21.0 Q 338.0,21.0 338.0,24.0 L 328.0,29.5 Z" fill="#8fd0f5"/>
<circle cx="325" cy="29" r="2.2" fill="#1f4f99"/>
<polygon points="562.0,180.2 569.5,184.0 569.5,186.1 562.0,182.3" fill="#1c4088" />
<polygon points="569.5,184.0 577.0,180.2 577.0,182.3 569.5,186.1" fill="#3d96d8" />
<polygon points="569.5,176.5 577.0,180.2 569.5,184.0 562.0,180.2" fill="#7cc4ef" />
<path d="M 568.9,152.1 L 570.8,152.1 L 571.3,179 L 568.4,179 Z" fill="#1a3f85"/>
<path d="M 566,150 L 565.5,136" stroke="#8ccdf2" stroke-width="1.7" stroke-linecap="round"/>
<path d="M 566,150 L 554,151" stroke="#8ccdf2" stroke-width="1.7" stroke-linecap="round"/>
<path d="M 566,150 L 576,164" stroke="#8ccdf2" stroke-width="1.7" stroke-linecap="round"/>
<path d="M 565.3,148.6 L 572.3,144.4 Q 575.8,144.4 575.5,147.9 L 574.8,149.3 L 568.1,152.8 Q 564.6,152.1 565.3,148.6 Z" fill="#3d96d8"/>
<path d="M 565.3,148.6 L 572.3,144.4 Q 575.1,144.4 575.1,146.5 L 568.1,150.3 Z" fill="#8fd0f5"/>
<circle cx="566" cy="150" r="1.5" fill="#1f4f99"/>
<polygon points="588.0,165.2 595.5,169.0 595.5,171.1 588.0,167.3" fill="#1c4088" />
<polygon points="595.5,169.0 603.0,165.2 603.0,167.3 595.5,171.1" fill="#3d96d8" />
<polygon points="595.5,161.5 603.0,165.2 595.5,169.0 588.0,165.2" fill="#7cc4ef" />
<path d="M 594.9,137.1 L 596.8,137.1 L 597.3,164 L 594.4,164 Z" fill="#1a3f85"/>
<path d="M 592,135 L 591.5,121" stroke="#8ccdf2" stroke-width="1.7" stroke-linecap="round"/>
<path d="M 592,135 L 580,136" stroke="#8ccdf2" stroke-width="1.7" stroke-linecap="round"/>
<path d="M 592,135 L 602,149" stroke="#8ccdf2" stroke-width="1.7" stroke-linecap="round"/>
<path d="M 591.3,133.6 L 598.3,129.4 Q 601.8,129.4 601.5,132.9 L 600.8,134.3 L 594.1,137.8 Q 590.6,137.1 591.3,133.6 Z" fill="#3d96d8"/>
<path d="M 591.3,133.6 L 598.3,129.4 Q 601.1,129.4 601.1,131.5 L 594.1,135.3 Z" fill="#8fd0f5"/>
<circle cx="592" cy="135" r="1.5" fill="#1f4f99"/>
<polygon points="612.0,178.8 619.5,182.5 619.5,184.6 612.0,180.8" fill="#1c4088" />
<polygon points="619.5,182.5 627.0,178.8 627.0,180.8 619.5,184.6" fill="#3d96d8" />
<polygon points="619.5,175.0 627.0,178.8 619.5,182.5 612.0,178.8" fill="#7cc4ef" />
<path d="M 618.9,151.1 L 620.8,151.1 L 621.3,178 L 618.4,178 Z" fill="#1a3f85"/>
<path d="M 616,149 L 615.5,135" stroke="#8ccdf2" stroke-width="1.7" stroke-linecap="round"/>
<path d="M 616,149 L 604,149" stroke="#8ccdf2" stroke-width="1.7" stroke-linecap="round"/>
<path d="M 616,149 L 626.5,162" stroke="#8ccdf2" stroke-width="1.7" stroke-linecap="round"/>
<path d="M 615.3,147.6 L 622.3,143.4 Q 625.8,143.4 625.5,146.9 L 624.8,148.3 L 618.1,151.8 Q 614.6,151.1 615.3,147.6 Z" fill="#3d96d8"/>
<path d="M 615.3,147.6 L 622.3,143.4 Q 625.1,143.4 625.1,145.5 L 618.1,149.3 Z" fill="#8fd0f5"/>
<circle cx="616" cy="149" r="1.5" fill="#1f4f99"/>
<polygon points="625.5,145.0 637.5,150.0 637.5,152.5 625.5,147.5" fill="#1c4088" />
<polygon points="637.5,150.0 649.6,145.0 649.6,147.5 637.5,152.5" fill="#3d96d8" />
<polygon points="637.5,140.0 649.6,145.0 637.5,150.0 625.5,145.0" fill="#8fd0f5" />
<polygon points="634.0,130.0 641.0,130.0 646.5,144 628.5,144" fill="#a9dcf7"/>
<path d="M 634.0,130.0 L 628.5,144 M 641.0,130.0 L 646.5,144 M 637.5,130.0 L 637.5,144 M 634.0,130.0 L 641.9,132.3 M 641.0,130.0 L 633.1,132.3 M 633.1,132.3 L 642.8,134.7 M 641.9,132.3 L 632.2,134.7 M 632.2,134.7 L 643.8,137.0 M 642.8,134.7 L 631.2,137.0 M 631.2,137.0 L 644.7,139.3 M 643.8,137.0 L 630.3,139.3 M 630.3,139.3 L 645.6,141.7 M 644.7,139.3 L 629.4,141.7 M 629.4,141.7 L 646.5,144.0 M 645.6,141.7 L 628.5,144.0 " stroke="#4aa3e6" stroke-width="1" fill="none"/>
<path d="M 637.5,110 L 635.0,119 L 640.0,119 Z" fill="#5fb2ea"/>
<polygon points="627.5,119.0 637.5,114.5 647.5,119.0 637.5,123.5" fill="#bfe4f8" fill-opacity="0.5" stroke="#2f62ad" stroke-width="1.2"/>
<path d="M 627.5,119.0 L 627.5,122.0 M 647.5,119.0 L 647.5,122.0 M 637.5,123.5 L 637.5,126.0" stroke="#2f62ad" stroke-width="1"/>
<polygon points="627.5,127.0 637.5,122.5 647.5,127.0 637.5,131.5" fill="#bfe4f8" fill-opacity="0.5" stroke="#2f62ad" stroke-width="1.2"/>
<path d="M 627.5,127.0 L 627.5,130.0 M 647.5,127.0 L 647.5,130.0 M 637.5,131.5 L 637.5,134.0" stroke="#2f62ad" stroke-width="1"/>
<path d="M 634.0,119.0 L 634.0,130.0 M 641.0,119.0 L 641.0,130.0" stroke="#4aa3e6" stroke-width="1.2"/>
<ellipse cx="408.5" cy="88.5" rx="4.5" ry="2.2" fill="#1b3f80"/>
<rect x="406.5" y="80.5" width="4" height="8" fill="#3f8fd6"/>
<ellipse cx="408.5" cy="76.5" rx="11" ry="6" fill="#1b3f80"/>
<ellipse cx="403.0" cy="76.5" rx="2.2" ry="1.4" fill="#ffffff"/>
<ellipse cx="414.0" cy="76.5" rx="2.2" ry="1.4" fill="#ffffff"/>
<ellipse cx="408.5" cy="73.5" rx="2" ry="1" fill="#dfe9f5"/>
<ellipse cx="408.5" cy="77.5" rx="2" ry="1.5" fill="#4a9be0"/>
<ellipse cx="474.9" cy="88.4" rx="4.5" ry="2.2" fill="#1b3f80"/>
<rect x="472.9" y="80.4" width="4" height="8" fill="#3f8fd6"/>
<ellipse cx="474.9" cy="76.4" rx="11" ry="6" fill="#1b3f80"/>
<ellipse cx="469.4" cy="76.4" rx="2.2" ry="1.4" fill="#ffffff"/>
<ellipse cx="480.4" cy="76.4" rx="2.2" ry="1.4" fill="#ffffff"/>
<ellipse cx="474.9" cy="73.4" rx="2" ry="1" fill="#dfe9f5"/>
<ellipse cx="474.9" cy="77.4" rx="2" ry="1.5" fill="#4a9be0"/>
<ellipse cx="631" cy="81.8" rx="4.5" ry="2.2" fill="#1b3f80"/>
<rect x="629" y="73.8" width="4" height="8" fill="#3f8fd6"/>
<ellipse cx="631" cy="69.8" rx="11" ry="6" fill="#1b3f80"/>
<ellipse cx="625.5" cy="69.8" rx="2.2" ry="1.4" fill="#ffffff"/>
<ellipse cx="636.5" cy="69.8" rx="2.2" ry="1.4" fill="#ffffff"/>
<ellipse cx="631" cy="66.8" rx="2" ry="1" fill="#dfe9f5"/>
<ellipse cx="631" cy="70.8" rx="2" ry="1.5" fill="#4a9be0"/>
<ellipse cx="85" cy="310.5" rx="4.5" ry="2.2" fill="#1b3f80"/>
<rect x="83" y="302.5" width="4" height="8" fill="#3f8fd6"/>
<ellipse cx="85" cy="298.5" rx="11" ry="6" fill="#1b3f80"/>
<ellipse cx="79.5" cy="298.5" rx="2.2" ry="1.4" fill="#ffffff"/>
<ellipse cx="90.5" cy="298.5" rx="2.2" ry="1.4" fill="#ffffff"/>
<ellipse cx="85" cy="295.5" rx="2" ry="1" fill="#dfe9f5"/>
<ellipse cx="85" cy="299.5" rx="2" ry="1.5" fill="#4a9be0"/>
<text x="139.5" y="64.0" font-size="9.6" fill="#383838" stroke="#383838" stroke-width="0.12" letter-spacing="0.2" filter="url(#tb)">bp refinery</text>
<text x="139.5" y="75.3" font-size="9.6" fill="#383838" stroke="#383838" stroke-width="0.12" letter-spacing="0.2" filter="url(#tb)">Lingen</text>
<text x="237.5" y="212.2" font-size="9.6" fill="#383838" stroke="#383838" stroke-width="0.12" letter-spacing="0.2" filter="url(#tb)">RWE power</text>
<text x="237.5" y="223.5" font-size="9.6" fill="#383838" stroke="#383838" stroke-width="0.12" letter-spacing="0.2" filter="url(#tb)">station Lingen</text>
<text x="78.5" y="219.3" font-size="9.6" fill="#383838" stroke="#383838" stroke-width="0.12" letter-spacing="0.2" filter="url(#tb)">Electrolysis</text>
<text x="78.5" y="231.0" font-size="9.6" fill="#4aa3e6" stroke="#4aa3e6" stroke-width="0.12" letter-spacing="0.2" filter="url(#tb)">Production of</text>
<text x="78.5" y="242.3" font-size="9.6" fill="#4aa3e6" stroke="#4aa3e6" stroke-width="0.12" letter-spacing="0.2" filter="url(#tb)">green hydrogen</text>
<text x="0.5" y="266.5" font-size="9.6" fill="#383838" stroke="#383838" stroke-width="0.12" letter-spacing="0.2" filter="url(#tb)">Vlieghuis</text>
<text x="0.5" y="277.8" font-size="9.6" fill="#383838" stroke="#383838" stroke-width="0.12" letter-spacing="0.2" filter="url(#tb)">(import point)</text>
<text x="67" y="336.7" font-size="9.6" fill="#383838" stroke="#383838" stroke-width="0.12" letter-spacing="0.2" filter="url(#tb)">Border</text>
<text x="67" y="348.0" font-size="9.6" fill="#383838" stroke="#383838" stroke-width="0.12" letter-spacing="0.2" filter="url(#tb)">crossing</text>
<text x="343.5" y="100.3" font-size="9.6" fill="#383838" stroke="#383838" stroke-width="0.12" letter-spacing="0.2" filter="url(#tb)">Lehringen</text>
<text x="437" y="109.0" font-size="9.6" fill="#383838" stroke="#383838" stroke-width="0.12" letter-spacing="0.2" filter="url(#tb)">Hannover</text>
<text x="543.5" y="31.8" font-size="9.6" fill="#383838" stroke="#383838" stroke-width="0.12" letter-spacing="0.2" filter="url(#tb)">Peine</text>
<text x="739" y="128.3" font-size="9.6" fill="#383838" stroke="#383838" stroke-width="0.12" letter-spacing="0.2" filter="url(#tb)">Steelworks</text>
<text x="739" y="139.6" font-size="9.6" fill="#383838" stroke="#383838" stroke-width="0.12" letter-spacing="0.2" filter="url(#tb)">Salzgitter</text>
<text x="739" y="150.9" font-size="9.6" fill="#383838" stroke="#383838" stroke-width="0.12" letter-spacing="0.2" filter="url(#tb)">Flachstahl</text>
<text x="518" y="300.0" font-size="9.6" fill="#383838" stroke="#383838" stroke-width="0.12" letter-spacing="0.2" filter="url(#tb)">Marl Chemical</text>
<text x="518" y="311.3" font-size="9.6" fill="#383838" stroke="#383838" stroke-width="0.12" letter-spacing="0.2" filter="url(#tb)">Park, Evonik</text>
<text x="580" y="431.6" font-size="9.6" fill="#383838" stroke="#383838" stroke-width="0.12" letter-spacing="0.2" filter="url(#tb)">Ruhr Oel refinery –</text>
<text x="580" y="442.9" font-size="9.6" fill="#383838" stroke="#383838" stroke-width="0.12" letter-spacing="0.2" filter="url(#tb)">bp Gelsenkirchen</text>
<text x="124" y="408.0" font-size="9.6" fill="#383838" stroke="#383838" stroke-width="0.12" letter-spacing="0.2" filter="url(#tb)">Cavern storage</text>
<text x="124" y="419.3" font-size="9.6" fill="#383838" stroke="#383838" stroke-width="0.12" letter-spacing="0.2" filter="url(#tb)">facility</text>
<text x="286.2" y="483.9" font-size="9.6" fill="#383838" stroke="#383838" stroke-width="0.12" letter-spacing="0.2" filter="url(#tb)">Ruhr area</text>
<text x="0" y="0" font-size="9.4" fill="#f0904c" stroke="#f0904c" stroke-width="0.2" letter-spacing="0.6" text-anchor="middle" transform="translate(174,208) rotate(30)" filter="url(#tb)">2024</text>
<text x="0" y="0" font-size="9.4" fill="#f0904c" stroke="#f0904c" stroke-width="0.2" letter-spacing="0.6" text-anchor="middle" transform="translate(349,197) rotate(-30)" filter="url(#tb)">2026</text>
<text x="0" y="0" font-size="8.2" fill="#f0904c" stroke="#f0904c" stroke-width="0.2" letter-spacing="0" text-anchor="middle" transform="translate(393.5,132.8) rotate(-90)" filter="url(#tb)">2030</text>
<text x="0" y="0" font-size="9.4" fill="#f0904c" stroke="#f0904c" stroke-width="0.2" letter-spacing="0.6" text-anchor="middle" transform="translate(520.5,105) rotate(30)" filter="url(#tb)">2030</text>
<text x="0" y="0" font-size="9.4" fill="#f0904c" stroke="#f0904c" stroke-width="0.2" letter-spacing="1" text-anchor="middle" transform="translate(161.5,320.3) rotate(-6)" filter="url(#tb)">2025</text>
<text x="0" y="0" font-size="9.4" fill="#f0904c" stroke="#f0904c" stroke-width="0.2" letter-spacing="0.6" text-anchor="middle" transform="translate(308,335.5) rotate(30)" filter="url(#tb)">2024</text>
<text x="0" y="0" font-size="9.4" fill="#f0904c" stroke="#f0904c" stroke-width="0.2" letter-spacing="0.6" text-anchor="middle" transform="translate(423,420.5) rotate(0)" filter="url(#tb)">2026</text>
<text x="0" y="0" font-size="8.4" fill="#f0904c" stroke="#f0904c" stroke-width="0.2" letter-spacing="0" text-anchor="middle" transform="translate(365,428) rotate(-90)" filter="url(#tb)">2026</text>
<text x="0" y="0" font-size="9.4" fill="#f0904c" stroke="#f0904c" stroke-width="0.2" letter-spacing="0.6" text-anchor="middle" transform="translate(496.5,408) rotate(30)" filter="url(#tb)">2024</text>
<text x="0" y="0" font-size="10" fill="#4aa3e6" stroke="#4aa3e6" stroke-width="0.2" letter-spacing="0" text-anchor="middle" transform="translate(422,231) rotate(-28)" filter="url(#tb)">Niedersachsen</text>
<text x="0" y="0" font-size="10" fill="#4aa3e6" stroke="#4aa3e6" stroke-width="0.2" letter-spacing="0" text-anchor="middle" transform="translate(346,274) rotate(-28)" filter="url(#tb)">Nordrhein-</text>
<text x="0" y="0" font-size="10" fill="#4aa3e6" stroke="#4aa3e6" stroke-width="0.2" letter-spacing="0" text-anchor="middle" transform="translate(356,282.5) rotate(-28)" filter="url(#tb)">Westfalen</text>
<text x="0" y="0" font-size="10" fill="#4aa3e6" stroke="#4aa3e6" stroke-width="0.2" letter-spacing="0" text-anchor="middle" transform="translate(20.5,370.5) rotate(-28)" filter="url(#tb)">Germany</text>
<text x="0" y="0" font-size="10" fill="#9a9a9a" stroke="#9a9a9a" stroke-width="0.2" letter-spacing="0" text-anchor="end" transform="translate(26,340.5) rotate(-28)" filter="url(#tb)">Netherlands</text>
<path d="M 17.5,127.7 L 9.5,123.8" stroke="#2a4f95" stroke-width="1.7"/>
<path d="M 0.8,0 L -4.5,-3.2 L -3.5,0 L -4.5,3.2 Z" fill="#2a4f95" transform="translate(9.5,123.8) rotate(-154.01076641616697)"/>
<path d="M 567,458.2 L 576.5,463.7" stroke="#2a4f95" stroke-width="1.7"/>
<path d="M 0.8,0 L -4.5,-3.2 L -3.5,0 L -4.5,3.2 Z" fill="#2a4f95" transform="translate(576.5,463.7) rotate(30.068582821862453)"/>
<path d="M 346,491 L 336,497" stroke="#2a4f95" stroke-width="1.7"/>
<path d="M 0.8,0 L -4.5,-3.2 L -3.5,0 L -4.5,3.2 Z" fill="#2a4f95" transform="translate(336,497) rotate(149.03624346792648)"/>
<path d="M 373,71 L 385,78.5" stroke="#2a4f95" stroke-width="1.7"/>
<path d="M 0.8,0 L -4.5,-3.2 L -3.5,0 L -4.5,3.2 Z" fill="#2a4f95" transform="translate(385,78.5) rotate(32.005383208083494)"/>
<path d="M 0.8,0 L -4.5,-3.2 L -3.5,0 L -4.5,3.2 Z" fill="#2a4f95" transform="translate(373,71) rotate(212.0053832080835)"/>
<path d="M 45,288 L 58,296.5" stroke="#2a4f95" stroke-width="1.7"/>
<path d="M 0.8,0 L -4.5,-3.2 L -3.5,0 L -4.5,3.2 Z" fill="#2a4f95" transform="translate(58,296.5) rotate(33.17851165939275)"/>
<path d="M 0.8,0 L -4.5,-3.2 L -3.5,0 L -4.5,3.2 Z" fill="#2a4f95" transform="translate(45,288) rotate(213.17851165939274)"/>
<path d="M 669.5,60.5 L 682,53" stroke="#2a4f95" stroke-width="1.7"/>
<path d="M 0.8,0 L -4.5,-3.2 L -3.5,0 L -4.5,3.2 Z" fill="#2a4f95" transform="translate(682,53) rotate(-30.96375653207352)"/>
<path d="M 0.8,0 L -4.5,-3.2 L -3.5,0 L -4.5,3.2 Z" fill="#2a4f95" transform="translate(669.5,60.5) rotate(149.03624346792648)"/>
<path d="M 117.9,192.5 L 111.1,197.6" stroke="#2a4f95" stroke-width="1.4" fill="none"/>
<path d="M 111.1,197.6 L 100.5,192.5" stroke="#2a4f95" stroke-width="1.7"/>
<path d="M 0.8,0 L -4.5,-3.2 L -3.5,0 L -4.5,3.2 Z" fill="#2a4f95" transform="translate(100.5,192.5) rotate(-154.30630034060042)"/>
<path d="M 111.1,197.6 L 118.2,203.8" stroke="#2a4f95" stroke-width="1.7"/>
<path d="M 0.8,0 L -4.5,-3.2 L -3.5,0 L -4.5,3.2 Z" fill="#2a4f95" transform="translate(118.2,203.8) rotate(41.12874376801442)"/>
<path d="M 145,177.5 Q 142,187 131,191" stroke="#3a5fa5" stroke-width="1.1" fill="none"/>
<ellipse cx="666" cy="62" rx="2" ry="3.6" fill="#d5ecfa" transform="rotate(60 666 62)"/>
<ellipse cx="60" cy="297" rx="2" ry="3.6" fill="#d5ecfa" transform="rotate(-58 60 297)"/>
<ellipse cx="390" cy="78" rx="2" ry="3.6" fill="#d5ecfa" transform="rotate(-58 390 78)"/>
</g>
<rect x="0" y="0" width="800" height="1" fill="#e0e4e7"/><rect x="0" y="1" width="800" height="2" fill="#ffffff"/><rect x="0" y="0" width="1" height="497" fill="#e0e4e7"/><rect x="1" y="1" width="2" height="494" fill="#ffffff"/><rect x="0" y="494" width="800" height="1.5" fill="#ffffff"/><rect x="0" y="495.3" width="800" height="1.7" fill="#b9c0c4"/><rect x="797" y="0" width="1.2" height="497" fill="#ffffff"/><rect x="798.2" y="0" width="1.8" height="497" fill="#b9c0c4"/>
</svg>
</body></html>
